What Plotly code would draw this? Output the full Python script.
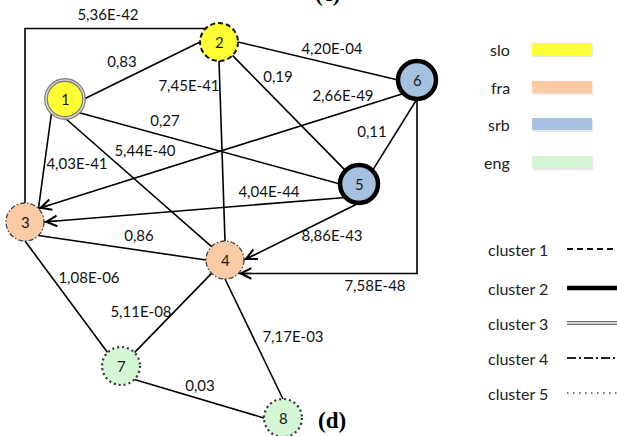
import math
import plotly.graph_objects as go

W, H = 617, 436

# ---- network data -------------------------------------------------------
node_ids = ["1", "2", "3", "4", "5", "6", "7", "8"]
node_lang = ["slo", "slo", "fra", "fra", "srb", "srb", "eng", "eng"]
node_cluster = [3, 1, 4, 4, 2, 2, 5, 5]

edge_a = ["2", "1", "2", "2", "2", "6", "6", "1", "1", "1", "5", "3", "5", "6", "3", "4", "4", "7"]
edge_b = ["3", "2", "4", "5", "6", "3", "5", "5", "4", "3", "3", "4", "4", "4", "7", "7", "8", "8"]
edge_weight = [5.36e-42, 0.83, 7.45e-41, 0.19, 4.20e-04, 2.66e-49, 0.11, 0.27, 5.44e-40,
               4.03e-41, 4.04e-44, 0.86, 8.86e-43, 7.58e-48, 1.08e-06, 5.11e-08, 7.17e-03, 0.03]
edge_directed = [False, False, False, False, False, True, False, False, False,
                 False, True, False, True, True, False, False, False, False]

languages = ["slo", "fra", "srb", "eng"]
clusters = [1, 2, 3, 4, 5]

# ---- drawing layout (pixel space) ----------------------------------------
node_pos = {"1": (65, 99), "2": (219, 42), "3": (25, 222), "4": (225, 260),
            "5": (359, 184), "6": (417, 80), "7": (121, 366), "8": (283, 418)}
NODE_R = 19

# connection point used on each end of an edge
edge_ports = [("NW", "N"), ("E", "W"), ("S", "N"), ("SE", "NW"), ("E", "W"), ("SW", "NE"),
              ("S", "NE"), ("SE", "W"), ("S", "NW"), ("SW", "NE"), ("SW", "E"), ("SE", "W"),
              ("S", "E"), ("S", "SE"), ("S", "NW"), ("SW", "NE"), ("S", "N"), ("SE", "W")]
# elbow routing: "hv" = horizontal then vertical, "vh" = vertical then horizontal
edge_route = ["hv", "", "", "", "", "", "", "", "", "", "", "", "", "vh", "", "", "", ""]
label_pos = [(108, 16), (122, 63), (189, 87), (278, 78), (332, 50), (343, 97), (372, 133),
             (165, 122), (145, 152), (77, 165), (269, 193), (139, 237), (332, 237),
             (375, 287), (89, 279), (141, 313), (293, 338), (200, 387)]

lang_color = {"slo": "#FFFF33", "fra": "#FACBA4", "srb": "#A6C1DF", "eng": "#D5F6D5"}

PORT_DIR = {"E": (1, 0), "SE": (0.7071, 0.7071), "S": (0, 1), "SW": (-0.7071, 0.7071),
            "W": (-1, 0), "NW": (-0.7071, -0.7071), "N": (0, -1), "NE": (0.7071, -0.7071)}

LABEL_FONT = dict(family="Lato", size=15, color="#111111")
LEGEND_FONT = dict(family="Lato", size=16, color="#222222")


def port(node, name):
    cx, cy = node_pos[node]
    dx, dy = PORT_DIR[name]
    return (cx + NODE_R * dx, cy + NODE_R * dy)


def fmt(v):
    s = f"{v:.2f}" if v >= 0.01 else f"{v:.2E}"
    return s.replace(".", ",")


fig = go.Figure()
shapes = []
annotations = []

# ---- edges ----------------------------------------------------------------
ex, ey = [], []
for i in range(len(edge_a)):
    p0 = port(edge_a[i], edge_ports[i][0])
    p1 = port(edge_b[i], edge_ports[i][1])
    if edge_route[i] == "hv":
        pts = [p0, (p1[0], p0[1]), p1]
    elif edge_route[i] == "vh":
        pts = [p0, (p0[0], p1[1]), p1]
    else:
        pts = [p0, p1]
    for x, y in pts:
        ex.append(x)
        ey.append(y)
    ex.append(None)
    ey.append(None)
    if edge_directed[i]:
        (xa, ya), (xb, yb) = pts[-2], pts[-1]
        L = math.hypot(xb - xa, yb - ya)
        ux, uy = (xb - xa) / L, (yb - ya) / L
        annotations.append(dict(
            x=xb, y=yb, ax=xb - 14 * ux, ay=yb - 14 * uy, xref="x", yref="y",
            axref="x", ayref="y", text="", showarrow=True, arrowhead=5,
            arrowsize=1.5, arrowwidth=1.4, arrowcolor="#000000", standoff=0))

fig.add_trace(go.Scatter(x=ex, y=ey, mode="lines", hoverinfo="skip",
                         line=dict(color="#000000", width=1.6), showlegend=False))

fig.add_trace(go.Scatter(
    x=[p[0] for p in label_pos], y=[p[1] for p in label_pos],
    text=[fmt(v) for v in edge_weight], mode="text", textposition="middle center",
    textfont=LABEL_FONT, hoverinfo="skip", showlegend=False))

# ---- cluster border styles -------------------------------------------------
cluster_lines = {
    1: [dict(color="#111111", width=2, dash="5px,3px")],
    2: [dict(color="#000000", width=4.5)],
    3: [dict(color="#808080", width=3.8), dict(color="#e6e6d0", width=1.2)],
    4: [dict(color="#444444", width=1.3, dash="5px,2px,1.5px,2px")],
    5: [dict(color="#333333", width=2.2, dash="2px,3px")],
}
legend_lines = {
    1: [dict(color="#111111", width=1.8, dash="6px,4px")],
    2: [dict(color="#000000", width=4.5)],
    3: [dict(color="#707070", width=4), dict(color="#f4f4f4", width=1.3)],
    4: [dict(color="#222222", width=1.8, dash="9px,3px,2px,3px")],
    5: [dict(color="#444444", width=1.6, dash="1.5px,4.5px")],
}

# ---- nodes ----------------------------------------------------------------
for nid, lang, cl in zip(node_ids, node_lang, node_cluster):
    cx, cy = node_pos[nid]
    for k, ln in enumerate(cluster_lines[cl]):
        shapes.append(dict(type="circle", xref="x", yref="y",
                           x0=cx - NODE_R, x1=cx + NODE_R, y0=cy - NODE_R, y1=cy + NODE_R,
                           fillcolor=lang_color[lang] if k == 0 else "rgba(0,0,0,0)",
                           line=ln))
    annotations.append(dict(x=cx, y=cy, xref="x", yref="y", text=nid, showarrow=False,
                            font=dict(family="Lato", size=15, color="#1a1a1a")))

# ---- language legend -----------------------------------------------------
lang_y = [49, 87, 124, 162]
for lang, y in zip(languages, lang_y):
    shapes.append(dict(type="rect", xref="x", yref="y", x0=533, x1=593, y0=y - 5, y1=y + 8,
                       fillcolor="#d8d8d8", line=dict(width=0), opacity=0.6))
    shapes.append(dict(type="rect", xref="x", yref="y", x0=532, x1=592, y0=y - 6, y1=y + 6,
                       fillcolor=lang_color[lang], line=dict(width=0)))
    annotations.append(dict(x=512, y=y, xref="x", yref="y", text=lang, showarrow=False,
                            xanchor="right", font=LEGEND_FONT))

# ---- cluster legend --------------------------------------------------------
cl_y = [249, 288, 323, 358, 393]
for cl, y in zip(clusters, cl_y):
    for ln in legend_lines[cl]:
        shapes.append(dict(type="line", xref="x", yref="y", x0=567, x1=630, y0=y, y1=y, line=ln))
    annotations.append(dict(x=550, y=y, xref="x", yref="y", text=f"cluster {cl}",
                            showarrow=False, xanchor="right", font=LEGEND_FONT))

# ---- panel tags --------------------------------------------------------------
annotations.append(dict(x=332, y=420, xref="x", yref="y", text="<b>(d)</b>", showarrow=False,
                        font=dict(family="Liberation Serif", size=23, color="#000000")))
annotations.append(dict(x=328 / W, y=1 + 6 / H, xref="paper", yref="paper", text="<b>(c)</b>",
                        showarrow=False, yanchor="middle",
                        font=dict(family="Liberation Serif", size=23, color="#000000")))

fig.update_layout(
    width=W, height=H, margin=dict(l=0, r=0, t=0, b=0),
    paper_bgcolor="white", plot_bgcolor="white",
    xaxis=dict(range=[0, W], visible=False, fixedrange=True),
    yaxis=dict(range=[H, 0], visible=False, fixedrange=True),
    shapes=shapes, annotations=annotations, showlegend=False,
)

fig.write_html("out.html")
